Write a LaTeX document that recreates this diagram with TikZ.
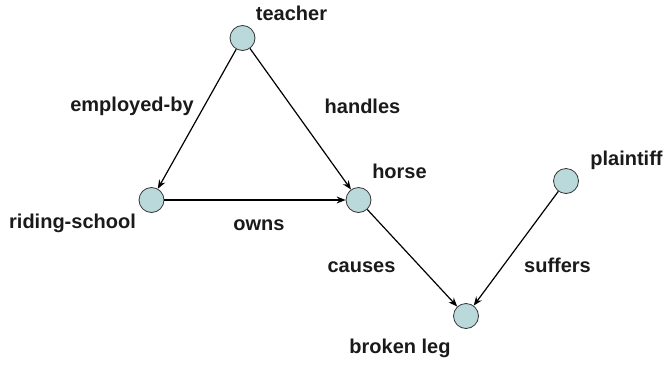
\documentclass[tikz,border=0pt]{standalone}
\usepackage{fontspec}
\setmainfont{Liberation Sans}
\usetikzlibrary{arrows.meta}
\definecolor{nodefill}{HTML}{B9D9DA}
\definecolor{txt}{HTML}{1A1A1A}
\begin{document}
\begin{tikzpicture}[x=1pt,y=-1pt,
  dot/.style={circle,draw=black!80,line width=0.8pt,fill=nodefill,minimum size=25pt,inner sep=0pt},
  lbl/.style={anchor=base,inner sep=0pt,text=txt,font=\fontsize{20}{24}\selectfont\bfseries},
  edge/.style={line width=1.2pt,-{Stealth[length=9pt,width=7pt,inset=3pt]}}]
\useasboundingbox (0,0) rectangle (664,365);
\node[dot] (teacher) at (242.5,38) {};
\node[dot] (school) at (151.5,200) {};
\node[dot] (horse) at (358.5,200) {};
\node[dot] (plaintiff) at (566,181) {};
\node[dot] (leg) at (466,316) {};
\node[lbl] (tteacher) at (291.5,20) {teacher};
\node[lbl] (temployed) at (132,111) {employed-by};
\node[lbl] (thandles) at (362.5,113) {handles};
\node[lbl] (thorse) at (399.5,178) {horse};
\node[lbl] (tschool) at (72.5,228) {riding-school};
\node[lbl] (towns) at (259,230) {owns};
\node[lbl] (tplaintiff) at (626.5,165) {plaintiff};
\node[lbl] (tcauses) at (361.5,272) {causes};
\node[lbl] (tsuffers) at (557.5,272) {suffers};
\node[lbl] (tleg) at (400,353) {broken leg};
\draw[edge] (teacher) -- (school);
\draw[edge] (teacher) -- (horse);
\draw[edge] (school) -- (horse);
\draw[edge] (horse) -- (leg);
\draw[edge] (plaintiff) -- (leg);
\end{tikzpicture}
\end{document}
